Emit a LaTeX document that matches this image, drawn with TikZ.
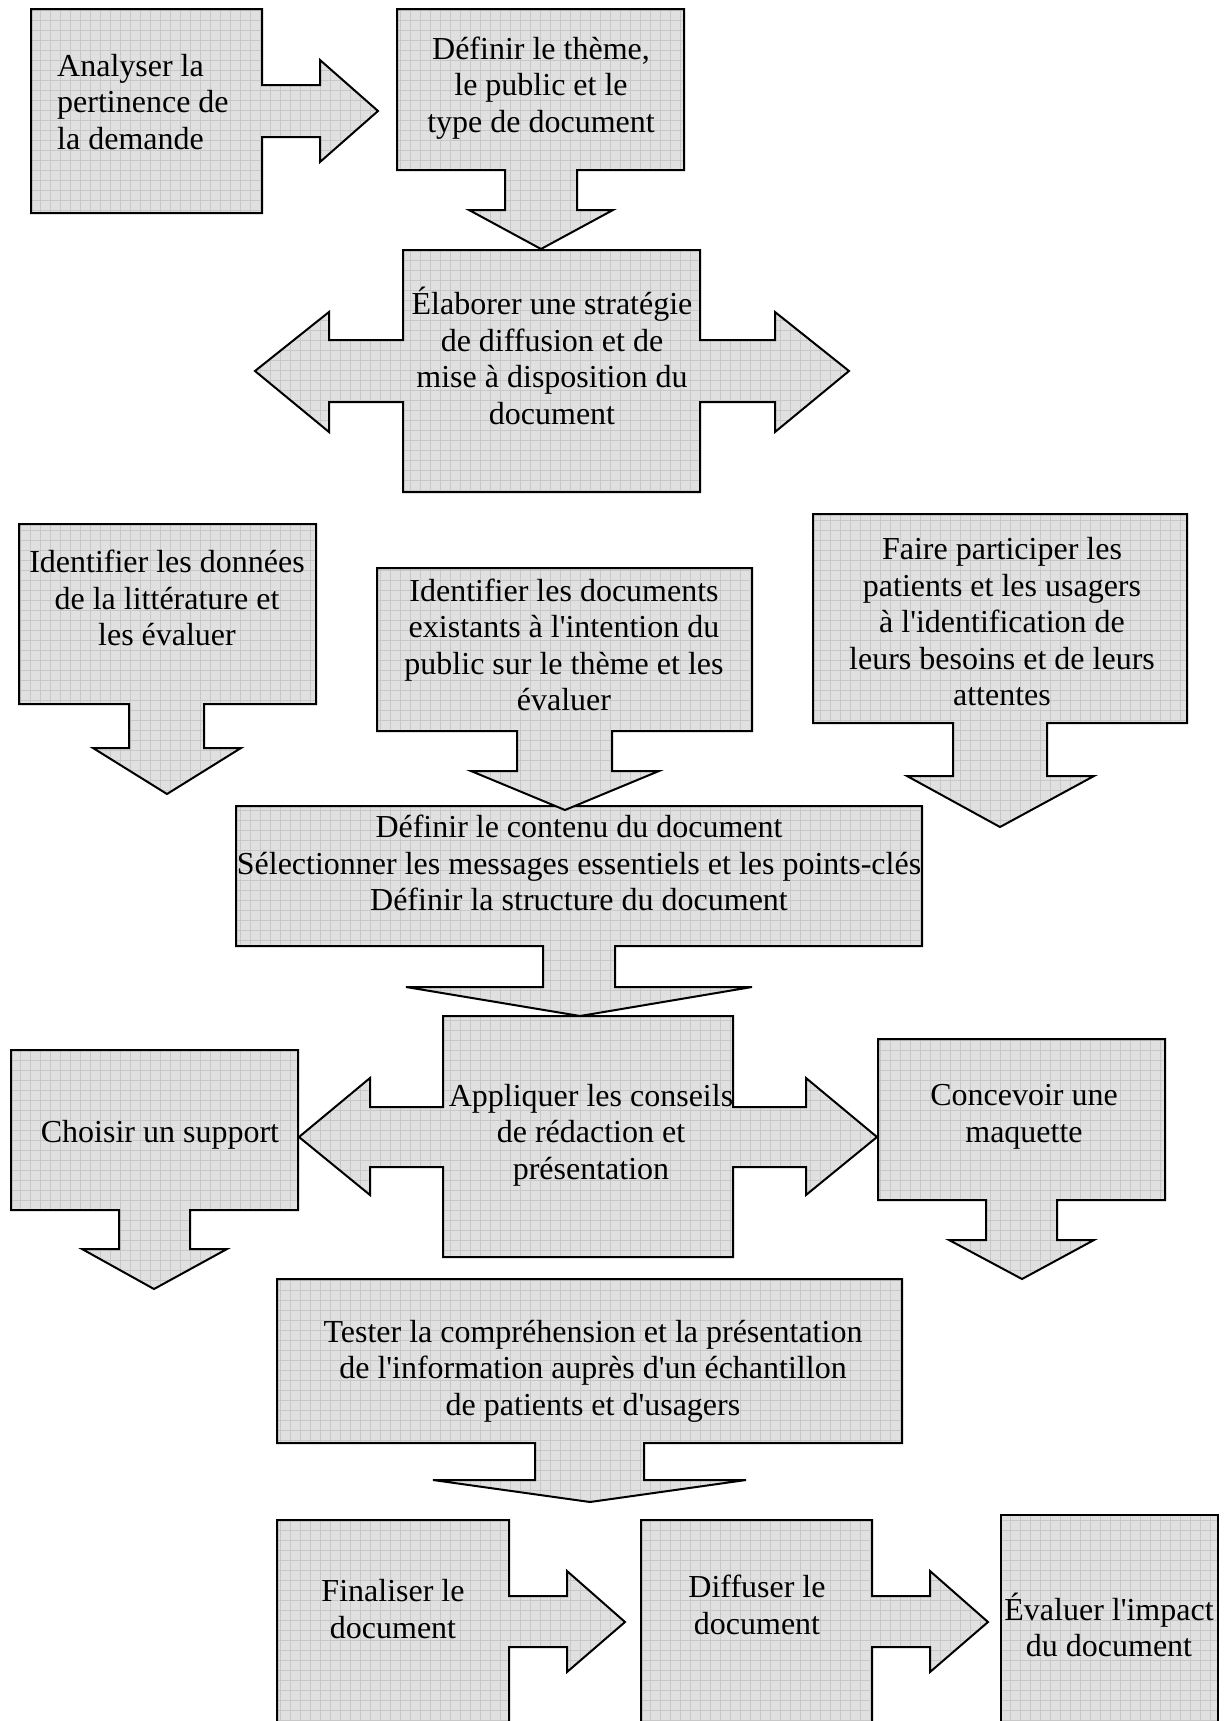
\documentclass[tikz,border=0pt]{standalone}
\usepackage{fontspec}
\setmainfont{Liberation Serif}[Ligatures=TeXOff]
\definecolor{boxgray}{RGB}{224,224,224}
\definecolor{gridgray}{RGB}{200,200,200}
\tikzset{
  outline/.style={draw=black, line width=2pt, line join=miter},
  gridline/.style={draw=gridgray, line width=0.7pt},
  lbl/.style={font=\fontsize{32}{36.5}\selectfont, align=center, text=black, inner sep=0pt},
}
\newcommand\gridshape[1]{%
  \begin{scope}
    \clip #1;
    \fill[boxgray] (0,0) rectangle (1224,1780);
    \draw[gridline, step=10pt] (0,0) grid (1224,1780);
  \end{scope}
  \draw[outline] #1;
}
\begin{document}
\begin{tikzpicture}[x=1pt,y=-1pt]
\useasboundingbox (0,0) rectangle (1224,1721);
\clip (0,0) rectangle (1224,1721);
\fill[white] (0,0) rectangle (1224,1721);

% 1 Analyser
\gridshape{(31,9) -- (262,9) -- (262,85) -- (320,85) -- (320,60) -- (378,111) -- (320,162) -- (320,137) -- (262,137) -- (262,213) -- (31,213) -- cycle}
\node[lbl, anchor=west, align=left] (t1) at (57,102) {Analyser la\\pertinence de\\la demande};

% 2 Definir le theme
\gridshape{(397,9) -- (684,9) -- (684,170) -- (577,170) -- (577,210) -- (613,210) -- (541,249) -- (469,210) -- (505,210) -- (505,170) -- (397,170) -- cycle}
\node[lbl] (t2) at (541,88) {Définir le thème,\\le public et le\\type de document};

% 3 Elaborer
\gridshape{(403,250) -- (700,250) -- (700,340) -- (775,340) -- (775,312) -- (849,371) -- (775,432) -- (775,402) -- (700,402) -- (700,492) -- (403,492) -- (403,402) -- (329,402) -- (329,432) -- (255,371) -- (329,312) -- (329,340) -- (403,340) -- cycle}
\node[lbl] (t3) at (552,356) {Élaborer une stratégie\\de diffusion et de\\mise à disposition du\\document};

% 4 Identifier les donnees
\gridshape{(19,524) -- (316,524) -- (316,704) -- (204,704) -- (204,748) -- (241,748) -- (167,794) -- (93,748) -- (129,748) -- (129,704) -- (19,704) -- cycle}
\node[lbl] (t4) at (167,598) {Identifier les données\\de la littérature et\\les évaluer};

% 6 Faire participer
\gridshape{(813,514) -- (1187,514) -- (1187,723) -- (1047,723) -- (1047,776) -- (1094,776) -- (1000,827) -- (907,776) -- (953,776) -- (953,723) -- (813,723) -- cycle}
\node[lbl] (t6) at (1002,622) {Faire participer les\\patients et les usagers\\à l'identification de\\leurs besoins et de leurs\\attentes};

% 7 Definir le contenu
\gridshape{(236,806) -- (922,806) -- (922,946) -- (615,946) -- (615,987) -- (752,987) -- (580,1016) -- (406,987) -- (543,987) -- (543,946) -- (236,946) -- cycle}
\node[lbl] (t7) at (579,863) {Définir le contenu du document\\Sélectionner les messages essentiels et les points-clés\\Définir la structure du document};

% 5 Identifier les documents
\gridshape{(377,568) -- (752,568) -- (752,731) -- (612,731) -- (612,771) -- (659,771) -- (565,810) -- (471,771) -- (517,771) -- (517,731) -- (377,731) -- cycle}
\node[lbl] (t5) at (564,645) {Identifier les documents\\existants à l'intention du\\public sur le thème et les\\évaluer};

% 8 Choisir un support
\gridshape{(11,1050) -- (298,1050) -- (298,1210) -- (190,1210) -- (190,1249) -- (227,1249) -- (154,1289) -- (82,1249) -- (119,1249) -- (119,1210) -- (11,1210) -- cycle}
\node[lbl] (t8) at (160,1135) {Choisir un support};

% 9 Appliquer
\gridshape{(443,1016) -- (733,1016) -- (733,1107) -- (806,1107) -- (806,1078) -- (877,1137) -- (806,1195) -- (806,1167) -- (733,1167) -- (733,1257) -- (443,1257) -- (443,1167) -- (370,1167) -- (370,1195) -- (299,1137) -- (370,1078) -- (370,1107) -- (443,1107) -- cycle}
\node[lbl] (t9) at (591,1135) {Appliquer les conseils\\de rédaction et\\présentation};

% 10 Concevoir
\gridshape{(878,1039) -- (1165,1039) -- (1165,1200) -- (1057,1200) -- (1057,1240) -- (1094,1240) -- (1022,1279) -- (949,1240) -- (986,1240) -- (986,1200) -- (878,1200) -- cycle}
\node[lbl] (t10) at (1024,1117) {Concevoir une\\maquette};

% 11 Tester
\gridshape{(277,1279) -- (902,1279) -- (902,1443) -- (644,1443) -- (644,1480) -- (746,1480) -- (590,1502) -- (433,1480) -- (535,1480) -- (535,1443) -- (277,1443) -- cycle}
\node[lbl] (t11) at (593,1371) {Tester la compréhension et la présentation\\de l'information auprès d'un échantillon\\de patients et d'usagers};

% 12 Finaliser
\gridshape{(277,1520) -- (509,1520) -- (509,1596) -- (567,1596) -- (567,1571) -- (625,1622) -- (567,1672) -- (567,1647) -- (509,1647) -- (509,1760) -- (277,1760) -- cycle}
\node[lbl] (t12) at (393,1609) {Finaliser le\\document};

% 13 Diffuser
\gridshape{(641,1520) -- (872,1520) -- (872,1596) -- (930,1596) -- (930,1571) -- (988,1622) -- (930,1672) -- (930,1647) -- (872,1647) -- (872,1760) -- (641,1760) -- cycle}
\node[lbl] (t13) at (757,1605) {Diffuser le\\document};

% 14 Evaluer
\gridshape{(1001,1515) -- (1218,1515) -- (1218,1760) -- (1001,1760) -- cycle}
\node[lbl] (t14) at (1109,1625) {Évaluer l'impact\\du document};
\end{tikzpicture}
\end{document}
